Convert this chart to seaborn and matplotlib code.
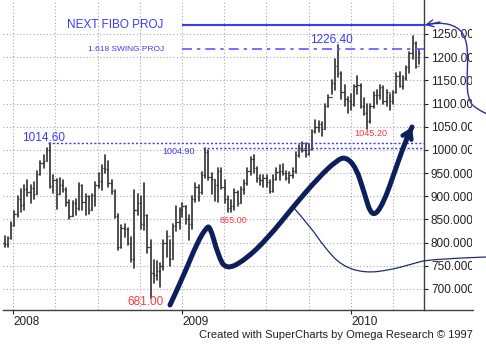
import numpy as np
import pandas as pd
import matplotlib.pyplot as plt
import matplotlib.transforms as mtransforms
from matplotlib.path import Path
from matplotlib.patches import PathPatch
import seaborn as sns

# weekly gold bars, Dec 2007 - May 2010
weeks = pd.date_range("2007-12-07", "2010-05-28", freq="W-FRI")

high_2007 = [808, 815, 812, 845]
low_2007 = [785, 790, 790, 808]
close_2007 = [800, 797, 810, 838]

high_2008 = [868, 900, 915, 925, 935, 925, 930, 955, 975, 990, 1005, 1014.6, 945,
             938, 940, 935, 918, 892, 890, 895, 928, 925, 905, 900, 905, 930,
             950, 967, 988, 975, 935, 913, 862, 838, 840, 832, 812, 913, 905,
             900, 929, 860, 806, 763, 760, 756, 805, 825, 805, 840, 880, 875]
low_2008 = [835, 855, 865, 870, 900, 885, 895, 905, 945, 960, 975, 918, 908,
            872, 905, 910, 880, 850, 858, 860, 870, 870, 860, 862, 870, 880,
            918, 913, 950, 920, 905, 853, 784, 788, 812, 795, 758, 745, 860,
            830, 827, 778, 681, 713, 720, 704, 741, 770, 750, 765, 825, 830]
close_2008 = [862, 895, 882, 915, 910, 918, 905, 948, 972, 975, 1000, 922, 935,
              905, 925, 915, 888, 858, 885, 875, 925, 888, 900, 870, 902, 925,
              932, 960, 958, 928, 912, 858, 790, 832, 830, 800, 765, 870, 885,
              840, 860, 790, 735, 730, 738, 750, 800, 815, 765, 835, 845, 870]

high_2009 = [885, 880, 860, 900, 929, 925, 952, 1004.9, 1000, 950, 935, 962, 960,
             935, 900, 892, 915, 912, 920, 935, 960, 985, 989, 963, 945, 946,
             945, 935, 945, 960, 967, 970, 955, 953, 962, 995, 1010, 1017, 1015,
             1012, 1043, 1064, 1062, 1060, 1100, 1118, 1150, 1195, 1226.4, 1168, 1140, 1115]
low_2009 = [855, 840, 806, 830, 888, 890, 905, 940, 935, 905, 890, 888, 915,
            885, 866, 865, 870, 880, 885, 905, 925, 945, 950, 930, 925, 920,
            920, 907, 910, 935, 935, 945, 935, 928, 940, 950, 985, 995, 985,
            990, 1000, 1036, 1038, 1030, 1045, 1092, 1120, 1130, 1157, 1110, 1095, 1080]
close_2009 = [878, 852, 840, 895, 920, 910, 945, 995, 942, 938, 925, 955, 920,
              895, 875, 878, 910, 885, 915, 928, 955, 980, 960, 940, 935, 940,
              930, 912, 938, 952, 955, 950, 940, 945, 955, 990, 1005, 1000, 992,
              1003, 1040, 1050, 1055, 1045, 1095, 1115, 1145, 1180, 1165, 1125, 1110, 1105]

high_2010 = [1120, 1140, 1160, 1142, 1112, 1100, 1100, 1125, 1130, 1140, 1138,
             1130, 1120, 1128, 1165, 1168, 1160, 1182, 1212, 1246, 1233, 1215]
low_2010 = [1085, 1095, 1120, 1090, 1075, 1045.2, 1058, 1090, 1100, 1110, 1100,
            1095, 1085, 1100, 1123, 1135, 1132, 1150, 1165, 1195, 1177, 1185]
close_2010 = [1100, 1138, 1140, 1095, 1080, 1062, 1095, 1118, 1118, 1135, 1105,
              1125, 1105, 1125, 1160, 1138, 1155, 1178, 1210, 1230, 1180, 1210]

y_ticks = [700, 750, 800, 850, 900, 950, 1000, 1050, 1100, 1150, 1200, 1250]
x_years = [2008, 2009, 2010]

# hand drawn projection curves (year, price)
wave_x = [2008.929, 2009.006, 2009.089, 2009.142, 2009.166, 2009.213, 2009.260,
          2009.373, 2009.509, 2009.657, 2009.805, 2009.917, 2009.970, 2010.030,
          2010.077, 2010.124, 2010.189, 2010.266, 2010.325, 2010.361]
wave_y = [665.5, 725.8, 799.2, 831.5, 836.0, 773.3, 741.0, 762.5, 810.0, 876.8,
          939.4, 978.0, 985.0, 962.0, 909.2, 853.1, 881.1, 961.0, 1021.4, 1049.4]
alt_x = [2009.657, 2009.757, 2009.846, 2009.947, 2010.083, 2010.231, 2010.361, 2010.467, 2010.799]
alt_y = [876.8, 835.9, 788.4, 749.6, 734.5, 740.9, 753.9, 764.7, 769.0]
side_x = [2010.438, 2010.527, 2010.633, 2010.680, 2010.692, 2010.686, 2010.692, 2010.728, 2010.805]
side_y = [1269.4, 1275.9, 1265.1, 1241.4, 1204.7, 1150.8, 1112.0, 1090.4, 1077.5]

high = high_2007 + high_2008 + high_2009 + high_2010
low = low_2007 + low_2008 + low_2009 + low_2010
close = close_2007 + close_2008 + close_2009 + close_2010

df = pd.DataFrame({"date": weeks, "high": high, "low": low, "close": close})
df["t"] = df["date"].dt.year + (df["date"].dt.dayofyear - 1) / 365.0
df["open"] = df["close"].shift(1).fillna(795)
df["week"] = np.arange(len(df))

long_df = df.melt(id_vars=["week", "t"], value_vars=["low", "high"], value_name="price")

sns.set_style("white")
plt.rcParams["font.family"] = ["Liberation Sans", "DejaVu Sans"]

BLUE = "#3a3aff"
RED = "#ff3838"
NAVY = "#0c1f5a"


def smooth_path(xs, ys):
    pts = list(zip(xs, ys))
    verts = [pts[0]]
    codes = [Path.MOVETO]
    for i in range(1, len(pts) - 1):
        if i == len(pts) - 2:
            end = pts[-1]
        else:
            end = ((pts[i][0] + pts[i + 1][0]) / 2, (pts[i][1] + pts[i + 1][1]) / 2)
        verts += [pts[i], end]
        codes += [Path.CURVE3, Path.CURVE3]
    return Path(verts, codes)


fig = plt.figure(figsize=(4.86, 3.6), dpi=100)
ax = fig.add_axes([3 / 486, 50 / 360, 421 / 486, 310 / 360])
ax.set_xlim(2007.9408, 2010.432)
ax.set_ylim(654.7, 1323.3)

# grid
ax.set_xticks(x_years)
ax.set_xticks(np.arange(2008, 2010.3, 0.25), minor=True)
ax.set_yticks(y_ticks)
ax.grid(True, which="both", axis="x", color="#a8a8a8", linestyle=(0, (1, 2)), lw=0.8)
ax.grid(True, which="major", axis="y", color="#a8a8a8", linestyle=(0, (1, 2)), lw=0.8)
ax.set_axisbelow(True)

# OHLC bars
sns.lineplot(data=long_df, x="t", y="price", units="week", estimator=None,
             color="#303030", lw=1.2, ax=ax, legend=False)
tw = 0.0075
ax.hlines(df["open"], df["t"] - tw, df["t"], color="#303030", lw=0.9)
ax.hlines(df["close"], df["t"], df["t"] + tw, color="#303030", lw=0.9)

# fibo levels
ax.hlines(1269.4, 2009.0, 2010.432, color=BLUE, lw=1.5)
ax.hlines(1217.6, 2009.0, 2010.432, color="#5a5aff", lw=1.2, linestyle=(0, (6, 3, 2, 3)))
ax.hlines(1014.6, 2008.207, 2010.432, color=BLUE, lw=1.0, linestyle=(0, (1.5, 1.5)))
ax.hlines(1004.9, 2009.124, 2010.432, color=BLUE, lw=1.0, linestyle=(0, (1.5, 1.5)))

ax.text(2008.888, 1269.4, "NEXT FIBO PROJ", color=BLUE, fontsize=8.5, ha="right", va="center")
ax.text(2008.893, 1217.6, "1.618 SWING PROJ", color=BLUE, fontsize=6, ha="right", va="center")
ax.text(2008.053, 1025.7, "1014.60", color=BLUE, fontsize=8.5, ha="left", va="center")
ax.text(2008.882, 997.6, "1004.90", color=BLUE, fontsize=6.5, ha="left", va="center")
ax.text(2009.882, 1237.0, "1226.40", color=BLUE, fontsize=8.5, ha="center", va="center")
ax.text(2010.115, 1034.3, "1045.20", color=RED, fontsize=6.6, ha="center", va="center")
ax.text(2009.305, 848.8, "865.00", color=RED, fontsize=6.5, ha="center", va="center")
ax.text(2008.784, 672.0, "681.00", color=RED, fontsize=8.5, ha="center", va="center")

# projection curves
ax.add_patch(PathPatch(smooth_path(wave_x, wave_y), fill=False, ec=NAVY, lw=3.6,
                       capstyle="round", joinstyle="round", zorder=5))
ax.annotate("", xy=(wave_x[-1], wave_y[-1]), xytext=(wave_x[-2], wave_y[-2]),
            arrowprops=dict(arrowstyle="->,head_length=0.55,head_width=0.35", lw=3.2,
                            color=NAVY, shrinkA=0, shrinkB=0), zorder=5)
ax.add_patch(PathPatch(smooth_path(alt_x, alt_y), fill=False, ec="#1c2e6e", lw=0.9,
                       clip_on=False, zorder=4))
ax.add_patch(PathPatch(smooth_path(side_x, side_y), fill=False, ec="#2e2ea8", lw=1.0,
                       clip_on=False, zorder=4))
ax.annotate("", xy=(side_x[0], side_y[0]), xytext=(side_x[1], side_y[1]),
            arrowprops=dict(arrowstyle="->,head_length=0.5,head_width=0.25", lw=1.0,
                            color="#2e2ea8", shrinkA=0, shrinkB=0),
            annotation_clip=False, zorder=4)

# axes styling
for s in ["top", "left"]:
    ax.spines[s].set_visible(False)
ax.spines["right"].set_color("#404040")
ax.spines["bottom"].set_color("#404040")
ax.spines["right"].set_linewidth(1.0)
ax.spines["bottom"].set_linewidth(1.0)
ax.plot([1, 470 / 421], [0, 0], transform=ax.transAxes, color="#404040", lw=1.0, clip_on=False)

ax.yaxis.tick_right()
ax.set_yticklabels([f"{v:.3f}" for v in y_ticks])
ax.tick_params(axis="y", which="major", right=True, length=3, width=0.8, pad=2,
               labelsize=8.5, colors="#202020")
ax.set_xticklabels([str(y) for y in x_years])
ax.tick_params(axis="x", which="major", bottom=True, length=3, width=0.8, pad=1.5,
               labelsize=8.5, colors="#202020")
ax.tick_params(which="minor", length=0)
for lab in ax.get_xticklabels():
    lab.set_ha("left")
ax.set_xlabel("")
ax.set_ylabel("")

# the original window cuts the price labels at its right edge
clip = mtransforms.Bbox.from_extents(0, 0, 472, 360)
for tick in ax.yaxis.get_major_ticks():
    tick.label2.set_clip_on(True)
    tick.label2.set_clip_box(clip)

fig.text(473 / 486, 25 / 360, "Created with SuperCharts by Omega Research \u00a9 1997",
         fontsize=8, ha="right", va="center", color="#202020")

fig.savefig("out.png", dpi=100, facecolor="white")
